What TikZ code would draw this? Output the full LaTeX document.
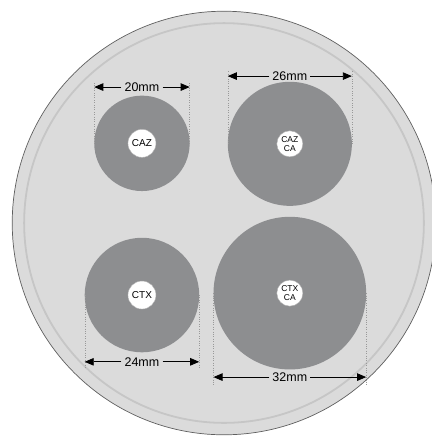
\documentclass[tikz,border=0pt]{standalone}
\usepackage{fontspec}
\setmainfont{Liberation Sans}
\usetikzlibrary{arrows.meta}
\definecolor{dishgray}{RGB}{219,219,219}
\definecolor{rimgray}{RGB}{198,198,198}
\definecolor{zonegray}{RGB}{141,142,144}
\definecolor{edgegray}{RGB}{95,95,95}

\begin{document}
\begin{tikzpicture}[x=4.77pt, y=4.77pt,
    zone/.style={fill=zonegray},
    disc/.style={circle, draw=gray!60, line width=0.4pt, fill=white, inner sep=0pt, minimum size=28pt, align=center, font=\fontsize{10}{10}\selectfont},
    disc2/.style={disc, minimum size=26pt, font=\fontsize{8.5}{8.8}\selectfont},
    dimlabel/.style={inner sep=3pt, font=\fontsize{12.5}{14}\selectfont},
    dimline/.style={line width=0.8pt, -{Triangle[length=9pt, width=7.5pt]}},
    extline/.style={gray!80, line width=0.4pt, dotted}]
            \useasboundingbox (-46.96,-44.86) rectangle (43.4,46.75);

            % Petri dish
            \fill[dishgray] (0,0) circle[radius=44.4];
            \draw[edgegray, line width=0.7pt] (0,0) circle[radius=44.4];
            \draw[rimgray, line width=1.8pt] (0,0) circle[radius=41.9];

            % Inhibition zones
            \fill[zone] (-17.2,16.7) circle[radius=10];
            \fill[zone] (13.8,16.6) circle[radius=13];
            \fill[zone] (-17.2,-15.1) circle[radius=12];
            \fill[zone] (13.8,-14.7) circle[radius=16];

            % Discs
            \node[disc] (caz) at (-17.2,16.7) {CAZ};
            \node[disc2] (cazca) at (13.8,16.6) {CAZ\\CA};
            \node[disc] (ctx) at (-17.2,-15.1) {CTX};
            \node[disc2] (ctxca) at (13.8,-14.7) {CTX\\CA};

            % Extension lines (Upper)
            \coordinate (cazL) at (-27.2,16.7);
            \coordinate (cazR) at (-7.2,16.7);
            \coordinate (cazLt) at (-27.2,29.6);
            \coordinate (cazRt) at (-7.2,29.6);
            \coordinate (cazcaL) at (0.8,16.6);
            \coordinate (cazcaR) at (26.8,16.6);
            \coordinate (cazcaLt) at (0.8,31.9);
            \coordinate (cazcaRt) at (26.8,31.9);
            \draw[extline] (cazL) -- (cazLt);
            \draw[extline] (cazR) -- (cazRt);
            \draw[extline] (cazcaL) -- (cazcaLt);
            \draw[extline] (cazcaR) -- (cazcaRt);

            % Extension lines (Lower)
            \coordinate (ctxL) at (-29.2,-15.1);
            \coordinate (ctxR) at (-5.2,-15.1);
            \coordinate (ctxLb) at (-29.2,-30.4);
            \coordinate (ctxRb) at (-5.2,-30.4);
            \coordinate (ctxcaL) at (-2.2,-14.7);
            \coordinate (ctxcaR) at (29.8,-14.7);
            \coordinate (ctxcaLb) at (-2.2,-33.9);
            \coordinate (ctxcaRb) at (29.8,-33.9);
            \draw[extline] (ctxL) -- (ctxLb);
            \draw[extline] (ctxR) -- (ctxRb);
            \draw[extline] (ctxcaL) -- (ctxcaLb);
            \draw[extline] (ctxcaR) -- (ctxcaRb);

            % Diameters
            \node[dimlabel] (d20) at (-17.2,28.5) {20mm};
            \node[dimlabel] (d26) at (13.8,30.8) {26mm};
            \node[dimlabel] (d24) at (-17.2,-29.1) {24mm};
            \node[dimlabel] (d32) at (13.8,-32.3) {32mm};
            \draw[dimline] (d20) -- (d20 -| cazL);
            \draw[dimline] (d20) -- (d20 -| cazR);
            \draw[dimline] (d26) -- (d26 -| cazcaL);
            \draw[dimline] (d26) -- (d26 -| cazcaR);
            \draw[dimline] (d24) -- (d24 -| ctxL);
            \draw[dimline] (d24) -- (d24 -| ctxR);
            \draw[dimline] (d32) -- (d32 -| ctxcaL);
            \draw[dimline] (d32) -- (d32 -| ctxcaR);
        \end{tikzpicture}
\end{document}
